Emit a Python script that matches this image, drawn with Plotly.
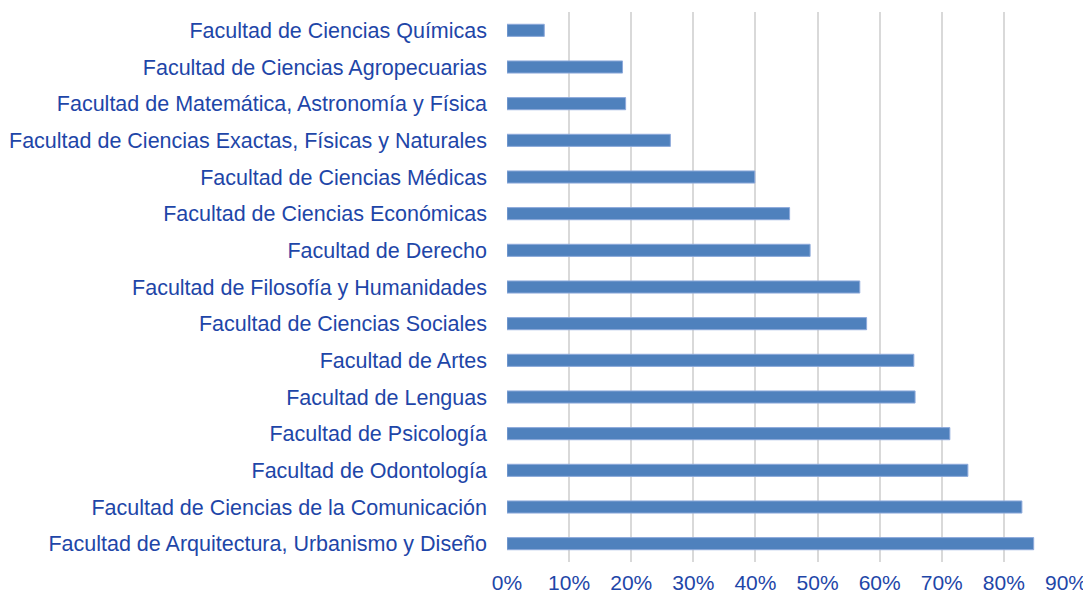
import plotly.graph_objects as go

facultades = [
    "Facultad de Ciencias Químicas",
    "Facultad de Ciencias Agropecuarias",
    "Facultad de Matemática, Astronomía y Física",
    "Facultad de Ciencias Exactas, Físicas y Naturales",
    "Facultad de Ciencias Médicas",
    "Facultad de Ciencias Económicas",
    "Facultad de Derecho",
    "Facultad de Filosofía y Humanidades",
    "Facultad de Ciencias Sociales",
    "Facultad de Artes",
    "Facultad de Lenguas",
    "Facultad de Psicología",
    "Facultad de Odontología",
    "Facultad de Ciencias de la Comunicación",
    "Facultad de Arquitectura, Urbanismo y Diseño",
]
porcentajes = [0.060, 0.186, 0.191, 0.263, 0.399, 0.455, 0.488, 0.568, 0.579,
               0.655, 0.657, 0.713, 0.742, 0.829, 0.848]
tick_vals = [0, 0.1, 0.2, 0.3, 0.4, 0.5, 0.6, 0.7, 0.8, 0.9]

TXT = "#1E46A8"

fig = go.Figure(go.Bar(
    x=porcentajes, y=facultades, orientation="h",
    marker=dict(color="#4F81BD", line=dict(color="#8EAADB", width=1)),
    width=0.33,
))

fig.update_layout(
    width=1083, height=591,
    margin=dict(l=499, r=25, t=4, b=37),
    paper_bgcolor="white", plot_bgcolor="white",
    font=dict(family="Liberation Sans, Arial, sans-serif", size=21, color=TXT),
    showlegend=False,
)
fig.update_xaxes(
    range=[0, 0.9], tickvals=tick_vals, tickformat=".0%",
    showgrid=True, gridcolor="#D9D9D9", gridwidth=1.5,
    zeroline=False, showline=False, ticks="", automargin=False,
    ticklabelstandoff=6,
    tickfont=dict(size=21, color=TXT),
)
fig.update_yaxes(
    categoryorder="array", categoryarray=facultades, autorange="reversed",
    showgrid=False, ticks="", showline=False, automargin=False,
    ticklabelstandoff=19,
    tickfont=dict(size=21.5, color=TXT),
)

fig.write_html("out.html")
